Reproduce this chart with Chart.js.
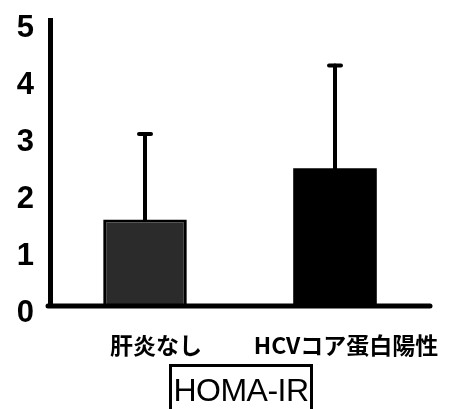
<!DOCTYPE html>
<html>
<head>
<meta charset="utf-8">
<script src="https://cdn.jsdelivr.net/npm/chart.js@4"></script>
<style>
  html, body { margin: 0; padding: 0; background: #fff; }
  #wrap { position: relative; width: 451px; height: 409px; overflow: hidden; }
  #grafico { position: absolute; left: 0; top: 0; }
  #titulo {
    position: absolute; left: 169px; top: 364px; width: 138px; height: 60px;
    border: 3px solid #000; box-sizing: content-box;
    font-family: "Liberation Sans", Arial, sans-serif; font-size: 32px;
    line-height: 46px; text-align: center; color: #000; letter-spacing: -0.5px;
  }
</style>
</head>
<body>
<div id="wrap">
  <canvas id="grafico" width="451" height="409"></canvas>
  <div id="titulo">HOMA-IR</div>
</div>
<script>
const categorias = ['肝炎なし', 'HCVコア蛋白陽性'];
const medias = [1.5, 2.4];
const desviacion = [1.5, 1.8];
const ticksY = [0, 1, 2, 3, 4, 5];

const grafico = document.getElementById('grafico');

// eje x dibujado a mano (el borde de chart.js se pasa del area)
const ejeX = {
  id: 'ejeX',
  afterDraw(chart) {
    const { ctx, chartArea } = chart;
    const y0 = chart.scales.y.getPixelForValue(0);
    ctx.save();
    ctx.strokeStyle = '#000';
    ctx.lineWidth = 5;
    ctx.lineCap = 'round';
    ctx.beginPath();
    ctx.moveTo(chartArea.left - 2, y0 + 1);
    ctx.lineTo(chartArea.right, y0 + 1);
    ctx.stroke();
    ctx.restore();
  }
};

// barras de error (solo hacia arriba)
const errorBars = {
  id: 'errorBars',
  afterDatasetsDraw(chart) {
    const ctx = chart.ctx;
    const meta = chart.getDatasetMeta(0);
    const y = chart.scales.y;
    ctx.save();
    ctx.strokeStyle = '#000';
    ctx.lineCap = 'round';
    meta.data.forEach((bar, i) => {
      const yTop = y.getPixelForValue(medias[i] + desviacion[i]);
      const yBase = y.getPixelForValue(medias[i]);
      ctx.lineWidth = 4;
      ctx.beginPath();
      ctx.moveTo(bar.x, yBase);
      ctx.lineTo(bar.x, yTop);
      ctx.stroke();
      ctx.beginPath();
      ctx.moveTo(bar.x - 6, yTop);
      ctx.lineTo(bar.x + 6, yTop);
      ctx.stroke();
    });
    ctx.restore();
  }
};

const chart = new Chart(grafico, {
  type: 'bar',
  data: {
    labels: categorias,
    datasets: [{
      data: medias,
      backgroundColor: ['#2b2b2b', '#000000'],
      borderColor: '#000',
      borderWidth: [3, 0],
      barPercentage: 0.44,
      categoryPercentage: 1
    }]
  },
  options: {
    responsive: false,
    animation: false,
    layout: { padding: { top: 20, right: 21, left: 0, bottom: 0 } },
    plugins: { legend: { display: false }, tooltip: { enabled: false } },
    scales: {
      x: {
        grid: { display: false, drawTicks: false },
        border: { display: false },
        ticks: {
          color: '#000',
          padding: 26,
          labelOffset: 11,
          maxRotation: 0,
          font: { family: '"Noto Sans CJK JP", sans-serif', size: 23, weight: 'bold' }
        },
        afterFit: (scale) => { scale.height = 104; scale.paddingLeft = 0; scale.paddingRight = 0; }
      },
      y: {
        min: 0,
        max: 5,
        afterBuildTicks: (scale) => { scale.ticks = ticksY.map(v => ({ value: v })); },
        grid: { display: false, drawTicks: false },
        border: { color: '#000', width: 5 },
        ticks: {
          color: '#000',
          padding: 16,
          labelOffset: 8,
          font: { family: '"Liberation Sans", Arial, sans-serif', size: 31, weight: 'bold' }
        },
        afterFit: (scale) => { scale.width = 50; scale.paddingTop = 0; scale.paddingBottom = 0; }
      }
    }
  },
  plugins: [errorBars, ejeX]
});
</script>
</body>
</html>
